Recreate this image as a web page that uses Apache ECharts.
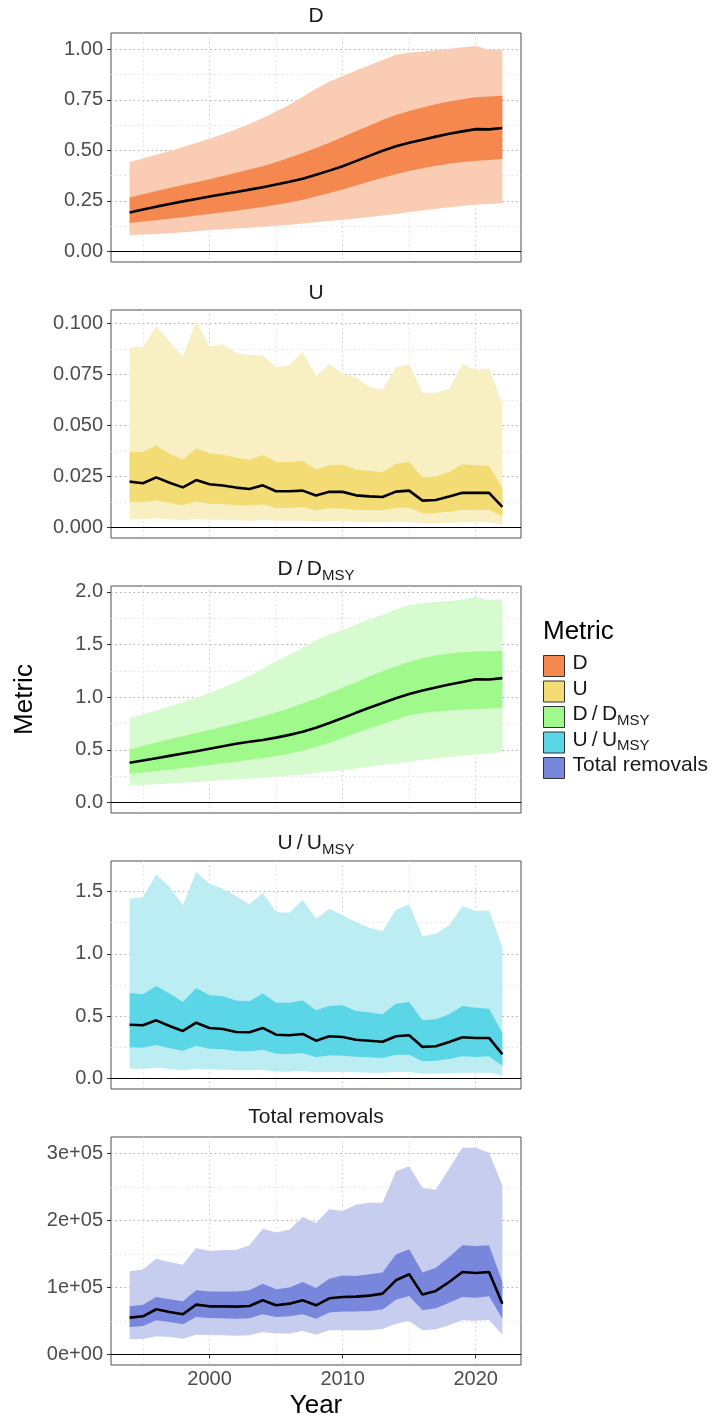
<!DOCTYPE html>
<html><head><meta charset="utf-8">
<script src="https://cdn.jsdelivr.net/npm/echarts@6/dist/echarts.min.js"></script>
<style>html,body{margin:0;padding:0;background:#fff}#c{width:715px;height:1420px}</style>
</head><body><div id="c"></div><script>
const years = [1994,1995,1996,1997,1998,1999,2000,2001,2002,2003,2004,2005,2006,2007,2008,2009,2010,2011,2012,2013,2014,2015,2016,2017,2018,2019,2020,2021,2022];

// D
const D_med  = [0.193,0.208,0.222,0.235,0.248,0.260,0.272,0.283,0.294,0.306,0.318,0.331,0.345,0.360,0.380,0.400,0.422,0.447,0.473,0.498,0.520,0.538,0.553,0.568,0.582,0.594,0.605,0.604,0.611];
const D_hi50 = [0.267,0.283,0.299,0.314,0.329,0.343,0.357,0.373,0.389,0.405,0.422,0.441,0.463,0.487,0.512,0.538,0.566,0.594,0.622,0.650,0.675,0.695,0.712,0.728,0.742,0.753,0.763,0.766,0.770];
const D_lo50 = [0.141,0.148,0.155,0.162,0.170,0.178,0.186,0.194,0.202,0.211,0.220,0.231,0.243,0.256,0.272,0.289,0.307,0.327,0.346,0.365,0.382,0.398,0.412,0.424,0.434,0.442,0.449,0.453,0.459];
const D_hi95 = [0.443,0.460,0.478,0.497,0.517,0.537,0.557,0.580,0.604,0.630,0.660,0.692,0.726,0.765,0.805,0.840,0.866,0.895,0.921,0.946,0.972,0.982,0.989,0.995,1.002,1.010,1.016,0.997,0.997];
const D_lo95 = [0.082,0.084,0.087,0.091,0.096,0.101,0.106,0.110,0.114,0.118,0.123,0.128,0.133,0.139,0.145,0.151,0.157,0.164,0.171,0.178,0.186,0.195,0.203,0.211,0.219,0.225,0.231,0.235,0.239];

// U
const U_med  = [0.0225,0.0217,0.0246,0.0220,0.0197,0.0233,0.0212,0.0206,0.0196,0.0189,0.0207,0.0178,0.0178,0.0181,0.0157,0.0175,0.0175,0.0158,0.0153,0.0150,0.0176,0.0181,0.0132,0.0135,0.0152,0.0171,0.0170,0.0170,0.0101];
const U_hi50 = [0.0372,0.0370,0.0403,0.0361,0.0334,0.0388,0.0364,0.0357,0.0343,0.0331,0.0356,0.0321,0.0321,0.0326,0.0285,0.0305,0.0308,0.0284,0.0279,0.0271,0.0312,0.0323,0.0245,0.0250,0.0271,0.0310,0.0305,0.0303,0.0192];
const U_lo50 = [0.0127,0.0124,0.0134,0.0121,0.0109,0.0129,0.0117,0.0116,0.0109,0.0108,0.0114,0.0096,0.0096,0.0101,0.0085,0.0095,0.0093,0.0088,0.0086,0.0085,0.0096,0.0098,0.0070,0.0072,0.0078,0.0088,0.0086,0.0088,0.0054];
const U_hi95 = [0.0883,0.0886,0.0987,0.0910,0.0837,0.1011,0.0886,0.0899,0.0858,0.0845,0.0843,0.0785,0.0796,0.0861,0.0742,0.0801,0.0755,0.0736,0.0690,0.0677,0.0785,0.0801,0.0661,0.0661,0.0680,0.0801,0.0772,0.0780,0.0605];
const U_lo95 = [0.0041,0.0041,0.0044,0.0041,0.0036,0.0041,0.0039,0.0038,0.0036,0.0034,0.0039,0.0033,0.0033,0.0033,0.0028,0.0031,0.0031,0.0028,0.0026,0.0026,0.0029,0.0029,0.0021,0.0021,0.0024,0.0026,0.0026,0.0026,0.0013];

// D/DMSY
const DD_med  = [0.378,0.400,0.422,0.444,0.466,0.488,0.512,0.535,0.558,0.578,0.595,0.617,0.643,0.672,0.710,0.755,0.803,0.852,0.900,0.945,0.990,1.030,1.063,1.093,1.120,1.145,1.170,1.168,1.181];
const DD_hi50 = [0.504,0.537,0.570,0.601,0.632,0.661,0.690,0.721,0.752,0.784,0.818,0.856,0.896,0.940,0.987,1.037,1.090,1.143,1.196,1.246,1.293,1.335,1.370,1.396,1.414,1.426,1.433,1.436,1.439];
const DD_lo50 = [0.274,0.287,0.300,0.314,0.328,0.343,0.358,0.373,0.389,0.406,0.423,0.441,0.466,0.495,0.527,0.568,0.614,0.660,0.704,0.748,0.790,0.828,0.850,0.865,0.876,0.883,0.888,0.893,0.898];
const DD_hi95 = [0.803,0.838,0.875,0.912,0.952,0.995,1.039,1.090,1.145,1.204,1.270,1.339,1.402,1.470,1.540,1.595,1.638,1.690,1.738,1.780,1.835,1.874,1.892,1.903,1.912,1.925,1.953,1.921,1.928];
const DD_lo95 = [0.164,0.168,0.174,0.181,0.189,0.197,0.206,0.214,0.222,0.229,0.237,0.246,0.257,0.268,0.281,0.295,0.309,0.324,0.340,0.357,0.374,0.391,0.405,0.420,0.433,0.446,0.457,0.468,0.479];

// U/UMSY
const UU_med  = [0.432,0.427,0.467,0.422,0.382,0.448,0.406,0.398,0.374,0.371,0.406,0.352,0.347,0.358,0.304,0.339,0.334,0.312,0.304,0.296,0.339,0.347,0.254,0.259,0.294,0.331,0.326,0.326,0.195];
const UU_hi50 = [0.686,0.675,0.742,0.681,0.614,0.726,0.667,0.659,0.625,0.619,0.681,0.608,0.608,0.625,0.547,0.582,0.587,0.542,0.531,0.515,0.600,0.614,0.467,0.475,0.515,0.582,0.568,0.560,0.368];
const UU_lo50 = [0.251,0.248,0.270,0.243,0.224,0.264,0.240,0.235,0.222,0.219,0.232,0.200,0.198,0.205,0.171,0.187,0.184,0.176,0.171,0.165,0.192,0.192,0.139,0.144,0.157,0.179,0.173,0.179,0.104];
const UU_hi95 = [1.441,1.455,1.636,1.535,1.388,1.655,1.561,1.521,1.460,1.396,1.487,1.334,1.329,1.433,1.281,1.361,1.308,1.254,1.206,1.180,1.353,1.396,1.140,1.161,1.228,1.380,1.342,1.348,1.054];
const UU_lo95 = [0.080,0.080,0.088,0.077,0.067,0.080,0.075,0.072,0.067,0.067,0.072,0.056,0.056,0.061,0.051,0.053,0.053,0.051,0.048,0.048,0.053,0.053,0.040,0.040,0.043,0.048,0.048,0.048,0.027];

// Total removals
const TR_med  = [54800,56800,67300,63300,59800,74200,71700,71700,71200,72200,80700,73200,75700,80700,73200,83700,85700,86200,87700,90700,110600,119600,89200,94700,108100,123100,121600,123100,75700];
const TR_hi50 = [71700,74200,85700,82200,79200,95700,93700,93700,93700,95700,105600,97200,99700,108100,99200,113100,117600,117100,119600,122100,149000,156900,122100,129500,145500,162900,161900,162900,108100];
const TR_lo50 = [40900,42400,50800,48300,44800,55800,54300,53800,53300,53800,59800,55800,56800,59800,53300,62300,63800,63800,64800,66800,81700,87200,65800,68800,77200,85700,84700,86700,53300];
const TR_hi95 = [124100,126600,143000,138000,134000,158900,154500,156000,156000,162900,187800,181900,186300,205300,196300,216700,214200,223700,226700,226700,273500,281000,248600,246100,277500,308900,308900,301400,252600];
const TR_lo95 = [22900,22900,26900,25900,23400,29400,28900,28400,27900,28400,33400,30900,30900,34900,29400,35900,35900,35900,35900,37900,45800,49800,35900,37400,43300,50800,50300,51300,29400];

// tick values
const xTicks = [2000, 2010, 2020];
const xMinor = [1995, 2005, 2015];
const yTicksD = [0, 0.25, 0.5, 0.75, 1];
const yMinorD = [0.125, 0.375, 0.625, 0.875];
const yTicksU = [0, 0.025, 0.05, 0.075, 0.1];
const yMinorU = [0.0125, 0.0375, 0.0625, 0.0875];
const yTicksDD = [0, 0.5, 1, 1.5, 2];
const yMinorDD = [0.25, 0.75, 1.25, 1.75];
const yTicksUU = [0, 0.5, 1, 1.5];
const yMinorUU = [0.25, 0.75, 1.25];
const yTicksTR = [0, 100000, 200000, 300000];
const yMinorTR = [50000, 150000, 250000];
const trLabels = ['0e+00', '1e+05', '2e+05', '3e+05'];

const FONT = '"Liberation Sans", Arial, Helvetica, sans-serif';

const panels = [
  {name:'D', title:'{n|D}', top:33, height:229, titleTop:8, min:-0.0515, max:1.08,
   med:D_med, hi50:D_hi50, lo50:D_lo50, hi95:D_hi95, lo95:D_lo95,
   outer:'#F9CCB3', inner:'#F4884F', ticks:yTicksD, minor:yMinorD, fmt:v=>v.toFixed(2)},
  {name:'U', title:'{n|U}', top:310, height:228, titleTop:285, min:-0.0051, max:0.1066,
   med:U_med, hi50:U_hi50, lo50:U_lo50, hi95:U_hi95, lo95:U_lo95,
   outer:'#F8EFC3', inner:'#F2DC73', ticks:yTicksU, minor:yMinorU, fmt:v=>v.toFixed(3)},
  {name:'D/D_MSY', title:'{n|D\u2009/\u2009D}{s|MSY}', top:586, height:227, titleTop:561, min:-0.098, max:2.055,
   med:DD_med, hi50:DD_hi50, lo50:DD_lo50, hi95:DD_hi95, lo95:DD_lo95,
   outer:'#D6FBCF', inner:'#A0F98B', ticks:yTicksDD, minor:yMinorDD, fmt:v=>v.toFixed(1)},
  {name:'U/U_MSY', title:'{n|U\u2009/\u2009U}{s|MSY}', top:861, height:228, titleTop:835, min:-0.083, max:1.743,
   med:UU_med, hi50:UU_hi50, lo50:UU_lo50, hi95:UU_hi95, lo95:UU_lo95,
   outer:'#BCEDF3', inner:'#5AD6E6', ticks:yTicksUU, minor:yMinorUU, fmt:v=>v.toFixed(1)},
  {name:'Total removals', title:'{n|Total removals}', top:1137, height:228, titleTop:1109, min:-16000, max:324800,
   med:TR_med, hi50:TR_hi50, lo50:TR_lo50, hi95:TR_hi95, lo95:TR_lo95,
   outer:'#C7CDEF', inner:'#7886DB', ticks:yTicksTR, minor:yMinorTR, fmt:v=>trLabels[yTicksTR.indexOf(v)]}
];

const legendText = {
  'D':'{n|D}', 'U':'{n|U}', 'D/D_MSY':'{n|D\u2009/\u2009D}{s|MSY}',
  'U/U_MSY':'{n|U\u2009/\u2009U}{s|MSY}', 'Total removals':'{n|Total removals}'
};

const richText = {
  n:{fontSize:21, fontFamily:FONT, color:'#1a1a1a', lineHeight:22, verticalAlign:'bottom', padding:[0,0,3,0]},
  s:{fontSize:15, fontFamily:FONT, color:'#1a1a1a', lineHeight:16, verticalAlign:'bottom'}
};

const pairs = (arr) => years.map((y, k) => [y, arr[k]]);

function bandSeries(i, name, lo, hi, color, z) {
  return {
    type:'custom', name:name, xAxisIndex:2*i, yAxisIndex:2*i, silent:true, z:z,
    data: years.map((y, k) => [y, lo[k], hi[k]]),
    encode:{x:0, y:[1, 2]},
    itemStyle:{color:color},
    renderItem: function (params, api) {
      if (params.dataIndex !== 0) return null;
      const up = years.map((y, k) => api.coord([y, hi[k]]));
      const dn = years.map((y, k) => api.coord([y, lo[k]])).reverse();
      return {type:'polygon', shape:{points: up.concat(dn)}, style:{fill:color}};
    }
  };
}

const grids = [], xAxes = [], yAxes = [], series = [], titles = [];
const dotted = [1.5, 3];
const last = panels.length - 1;

panels.forEach((p, i) => {
  grids.push({left:111, right:194, top:p.top, height:p.height, show:true,
    borderColor:'#4d4d4d', borderWidth:1, backgroundColor:'#fff'});
  titles.push({text:p.title, left:316, textAlign:'center', top:p.titleTop, padding:0,
    textStyle:{rich:richText, fontSize:21, fontWeight:'normal', fontFamily:FONT}});
  xAxes.push({gridIndex:i, type:'value', min:1992.6, max:2023.4,
    axisLine:{show:false},
    axisTick:{show:i===last, customValues:xTicks, length:4, lineStyle:{color:'#333'}},
    axisLabel:{show:i===last, customValues:xTicks, formatter:v=>String(v), fontSize:20, color:'#4d4d4d', margin:4, fontFamily:FONT},
    splitLine:{show:true, lineStyle:{color:'#cccccc', width:1, type:dotted}},
    name: i===last ? 'Year' : '', nameLocation:'middle', nameGap:28,
    nameTextStyle:{fontSize:26, color:'#000', fontFamily:FONT}});
  xAxes.push({gridIndex:i, type:'value', min:1992.6, max:2023.4,
    axisLine:{show:false}, axisTick:{show:false, customValues:xMinor},
    axisLabel:{show:false, customValues:xMinor},
    splitLine:{show:true, lineStyle:{color:'#e2e2e2', width:1, type:dotted}}});
  yAxes.push({gridIndex:i, type:'value', min:p.min, max:p.max,
    axisLine:{show:false},
    axisTick:{show:true, customValues:p.ticks, length:4, lineStyle:{color:'#333'}},
    axisLabel:{customValues:p.ticks, formatter:p.fmt, fontSize:20, color:'#4d4d4d', margin:8, fontFamily:FONT},
    splitLine:{show:true, lineStyle:{color:'#ababab', width:1, type:dotted}},
    name: i===2 ? 'Metric' : '', nameLocation:'middle', nameGap:73, nameRotate:90,
    nameTextStyle:{fontSize:26, color:'#000', fontFamily:FONT}});
  yAxes.push({gridIndex:i, type:'value', min:p.min, max:p.max, position:'left',
    axisLine:{show:false}, axisTick:{show:false, customValues:p.minor},
    axisLabel:{show:false, customValues:p.minor},
    splitLine:{show:true, lineStyle:{color:'#e0e0e0', width:1, type:dotted}}});

  series.push(bandSeries(i, p.name + ' 95%', p.lo95, p.hi95, p.outer, 2));
  series.push(bandSeries(i, p.name, p.lo50, p.hi50, p.inner, 3));
  series.push({type:'line', name:p.name + ' median', xAxisIndex:2*i, yAxisIndex:2*i,
    showSymbol:false, symbol:'none', silent:true, z:5,
    data:pairs(p.med), lineStyle:{color:'#000', width:2.6}, itemStyle:{color:'#000'},
    markLine:{silent:true, symbol:['none','none'], label:{show:false}, animation:false,
      lineStyle:{color:'#000', width:1.2, type:'solid'}, data:[{yAxis:0}]}});
});

titles.push({text:'Metric', left:543, top:619, padding:0,
  textStyle:{fontSize:26, fontWeight:'normal', color:'#000', fontFamily:FONT}});

const chart = echarts.init(document.getElementById('c'), null, {renderer:'canvas'});
chart.setOption({
  animation:false,
  backgroundColor:'#fff',
  title: titles,
  grid: grids,
  xAxis: xAxes,
  yAxis: yAxes,
  legend: {
    orient:'vertical', left:543, top:653, padding:0,
    itemWidth:21, itemHeight:21, itemGap:1.5, icon:'rect', selectedMode:false,
    itemStyle:{borderColor:'#333', borderWidth:1},
    data: panels.map(p => ({name:p.name, itemStyle:{color:p.inner}})),
    formatter: name => legendText[name],
    textStyle:{fontSize:21, color:'#1a1a1a', fontFamily:FONT, padding:[0,0,0,3], rich:richText}
  },
  series: series
});
</script></body></html>
